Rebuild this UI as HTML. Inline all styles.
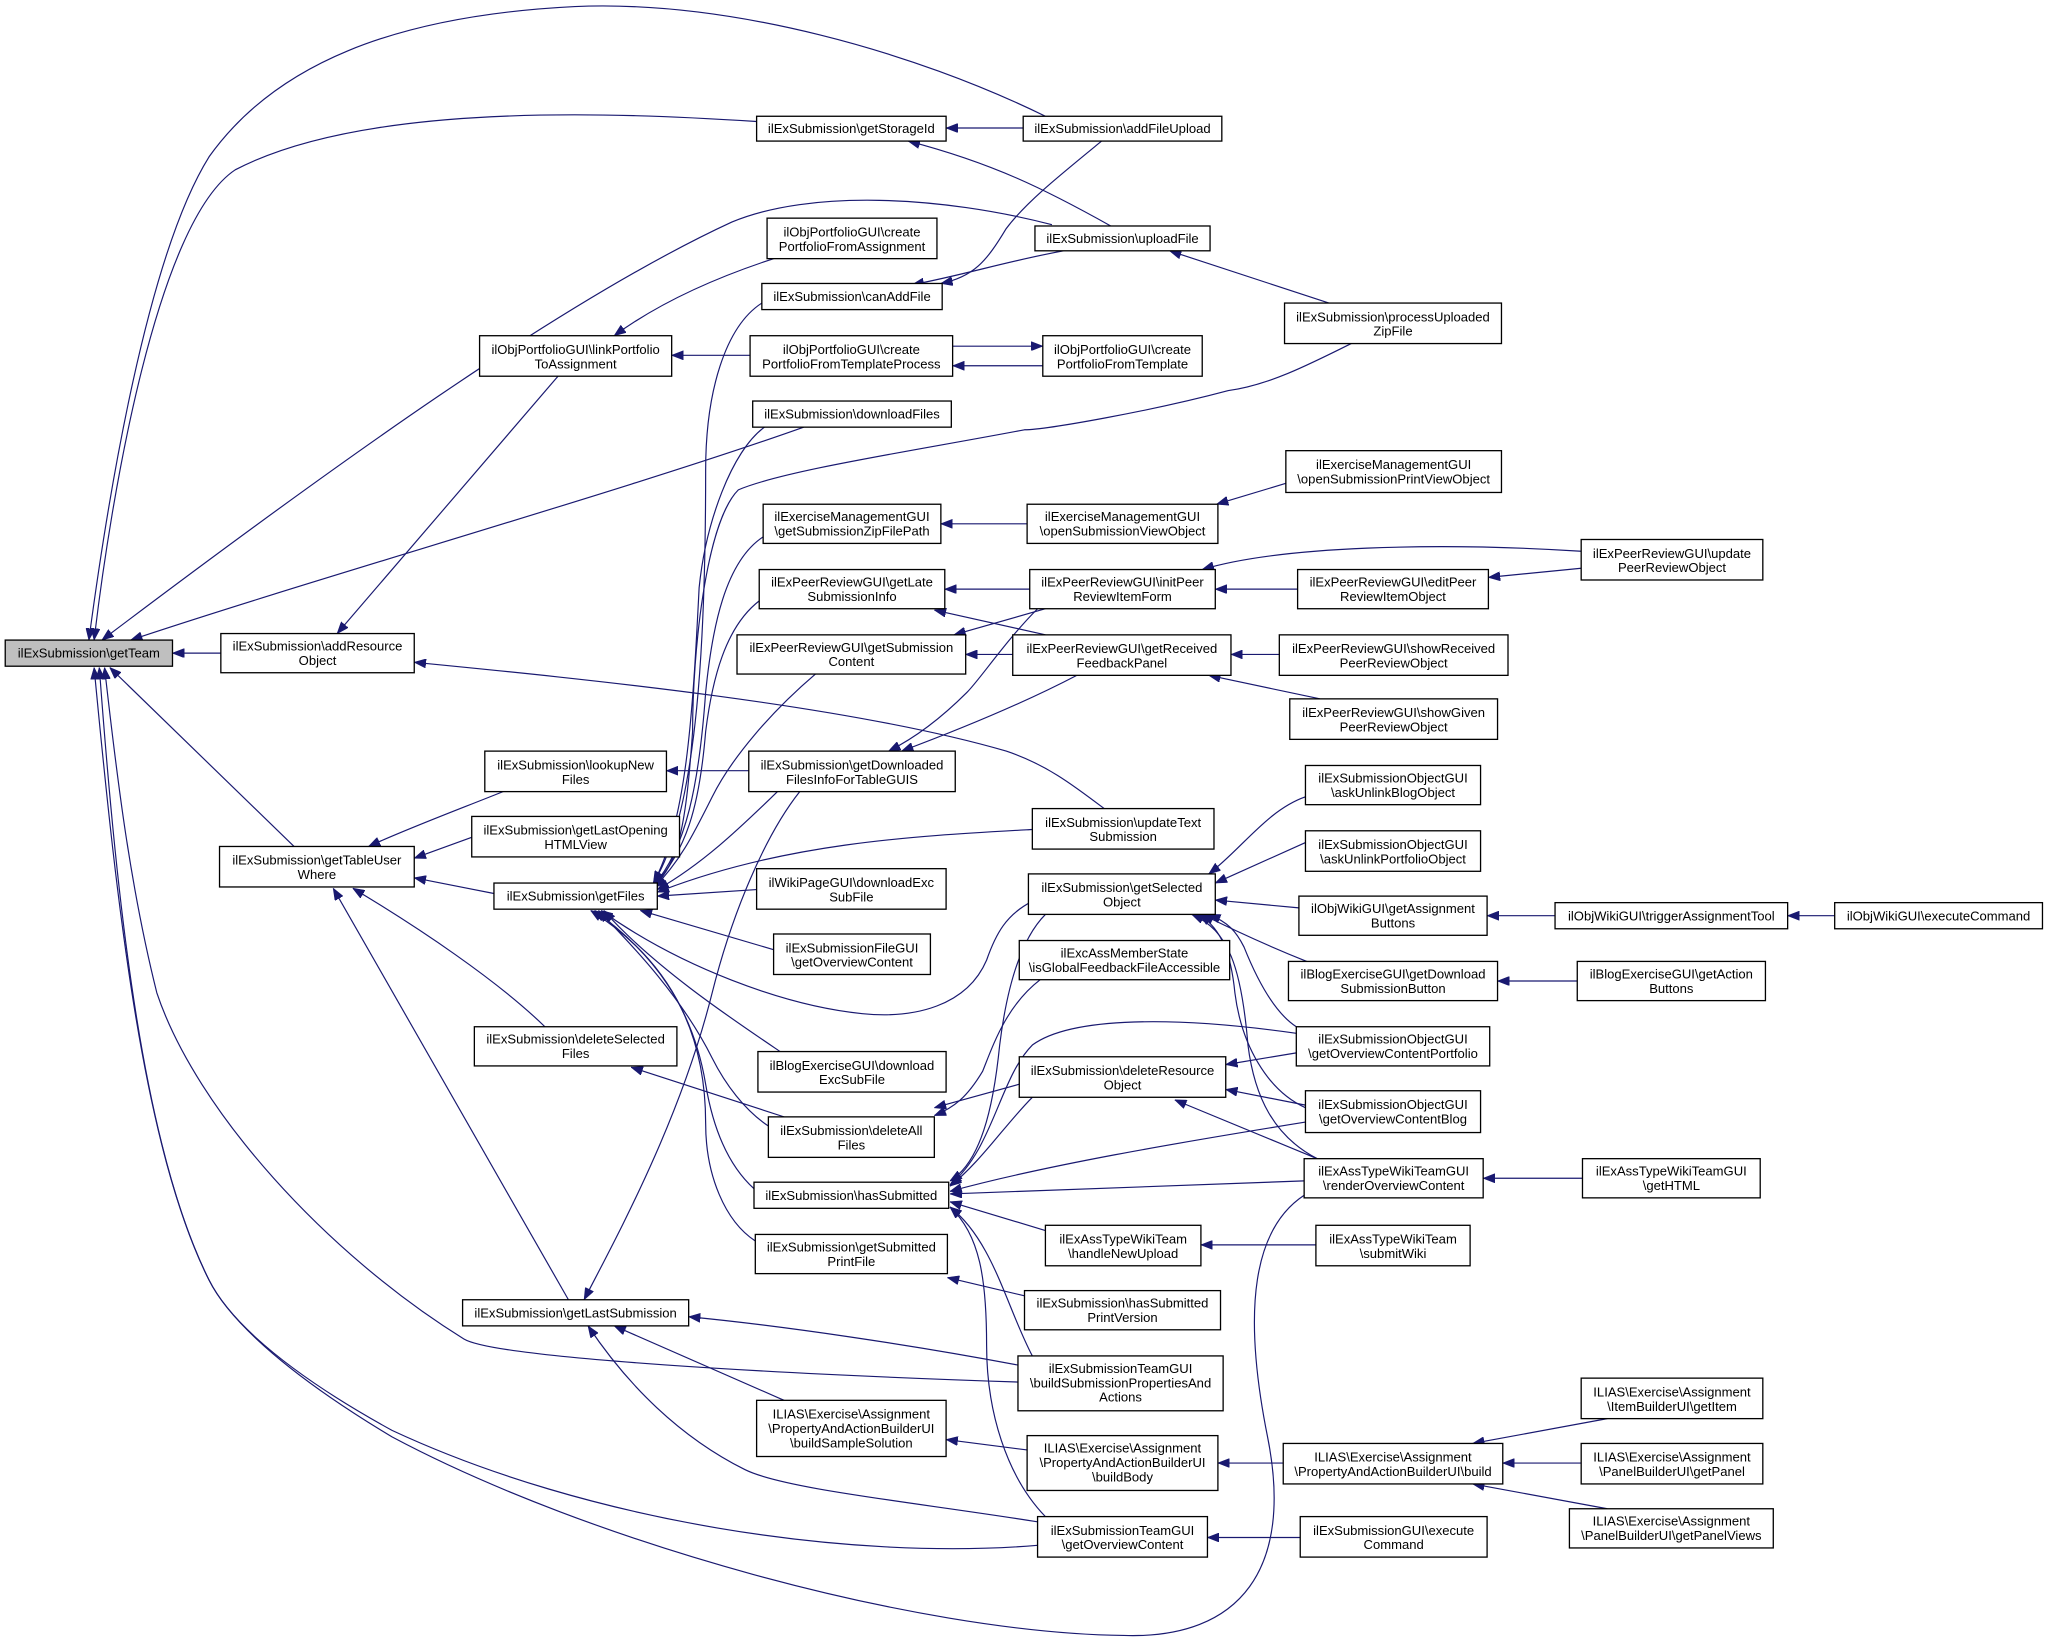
<!DOCTYPE html>
<html><head><meta charset="utf-8"><style>
html,body{margin:0;padding:0;background:#fff}
svg{display:block}
text{font-family:"Liberation Sans",Arial,sans-serif;font-size:10px;fill:#000;text-anchor:middle}
.n rect{fill:#fff;stroke:#000;stroke-width:1}
.e path{fill:none;stroke:#191970;stroke-width:0.9;marker-end:url(#a)}
</style></head><body>
<svg width="2049" height="1642" viewBox="0 0 1568 1257" preserveAspectRatio="none" xmlns="http://www.w3.org/2000/svg">
<defs><marker id="a" markerUnits="userSpaceOnUse" markerWidth="9" markerHeight="7" refX="9" refY="3.5" orient="auto"><path d="M0,0 L9,3.5 L0,7 z" fill="#191970" stroke="#191970" stroke-width="0.5"/></marker></defs>
<g class="e">
<path d="M169,500 L132,500"/>
<path d="M225,648 L84,511"/>
<path d="M579,93 C470,86 280,78 180,130 C120,170 85,380 72,490"/>
<path d="M800,89 C700,40 560,0 440,5 C300,12 210,50 160,120 C110,200 80,400 68,490"/>
<path d="M805,172 C720,150 620,145 560,170 C430,230 250,360 78,490"/>
<path d="M615,327 C480,375 250,440 100,490"/>
<path d="M998,915 C960,940 950,1000 970,1100 C990,1200 950,1255 860,1252 C700,1250 450,1180 300,1100 C200,1040 170,1000 160,980 C110,880 90,700 76,511"/>
<path d="M794,1183 C650,1195 450,1165 300,1095 C200,1040 170,1000 160,980 C110,880 90,700 72,511"/>
<path d="M779,1058 C600,1052 380,1040 355,1025 C250,960 150,850 120,760 C100,680 90,600 80,511"/>
<path d="M361,641 L317,657"/>
<path d="M378,684 L317,672"/>
<path d="M385,606 C350,620 310,635 282,648"/>
<path d="M417,786 C380,750 320,710 270,680"/>
<path d="M435,995 L255,680"/>
<path d="M427,288 L258,485"/>
<path d="M845,619 C820,600 800,585 770,575 C650,540 450,520 317,507"/>
<path d="M592,198 C540,215 500,235 470,257"/>
<path d="M574,272 L514,272"/>
<path d="M783,98 L724,98"/>
<path d="M850,173 C800,145 760,125 695,108"/>
<path d="M843,108 C810,135 785,155 770,175 C755,200 745,212 720,217"/>
<path d="M814,192 C770,200 740,210 698,218"/>
<path d="M1017,232 L895,192"/>
<path d="M729,265 L798,265"/>
<path d="M798,280 L729,280"/>
<path d="M984,370 L931,386"/>
<path d="M786,401 L720,401"/>
<path d="M788,451 L723,451"/>
<path d="M800,486 L715,467"/>
<path d="M800,466 L730,486"/>
<path d="M776,501 L739,501"/>
<path d="M993,451 L930,451"/>
<path d="M1210,422 C1100,415 980,418 920,436"/>
<path d="M1210,435 L1139,442"/>
<path d="M979,501 L942,501"/>
<path d="M1010,535 L925,517"/>
<path d="M824,517 C780,540 730,560 690,575"/>
<path d="M794,466 C770,490 750,520 740,530 C720,550 700,565 680,575"/>
<path d="M573,590 L510,590"/>
<path d="M583,232 C555,250 540,300 540,360 C540,480 535,620 500,676"/>
<path d="M585,327 C560,345 540,400 535,450 C530,550 525,630 500,676"/>
<path d="M584,411 C555,430 545,480 540,530 C535,600 525,650 500,678"/>
<path d="M581,460 C555,480 545,520 540,560 C535,620 525,650 500,679"/>
<path d="M624,516 C590,545 560,580 545,610 C530,640 520,660 500,680"/>
<path d="M595,606 C570,630 540,660 503,681"/>
<path d="M1034,263 C1000,280 970,295 940,299 C880,315 800,329 784,329 C700,345 600,360 565,375 C540,400 530,500 530,560 C525,630 520,660 500,679"/>
<path d="M790,635 C700,640 600,645 503,683"/>
<path d="M579,681 L503,686"/>
<path d="M592,727 L490,697"/>
<path d="M790,690 C770,700 762,715 755,735 C740,770 700,780 660,776 C600,770 520,740 460,697"/>
<path d="M597,805 C560,780 500,740 462,697"/>
<path d="M588,862 C570,850 555,830 545,810 C520,760 480,720 458,697"/>
<path d="M577,910 C555,890 545,860 540,830 C530,770 500,730 455,697"/>
<path d="M578,950 C555,935 540,900 540,860 C540,800 520,740 452,697"/>
<path d="M612,606 C585,640 560,700 545,760 C520,860 470,950 447,995"/>
<path d="M779,1045 C700,1030 600,1015 527,1008"/>
<path d="M600,1072 L470,1015"/>
<path d="M794,1165 C700,1150 600,1140 570,1125 C520,1100 480,1060 450,1015"/>
<path d="M600,855 L483,817"/>
<path d="M780,830 L715,848"/>
<path d="M796,750 C770,770 760,800 752,820 C740,840 730,848 715,854"/>
<path d="M999,610 C970,620 950,650 925,669"/>
<path d="M999,645 L930,676"/>
<path d="M994,695 L930,689"/>
<path d="M1000,736 C980,728 950,715 920,700"/>
<path d="M992,786 C975,775 962,750 952,725 C946,713 940,706 925,700"/>
<path d="M999,848 C970,835 950,800 945,760 C942,730 935,712 918,700"/>
<path d="M1008,887 C975,870 960,840 955,800 C950,740 940,712 912,700"/>
<path d="M800,700 C780,720 770,760 765,800 C760,850 750,890 727,904"/>
<path d="M992,791 C900,778 820,778 790,800 C765,825 760,880 727,907"/>
<path d="M790,840 C770,860 750,890 727,908"/>
<path d="M999,859 C900,875 800,892 727,912"/>
<path d="M998,904 L727,914"/>
<path d="M800,942 L727,920"/>
<path d="M790,1038 C770,1000 760,950 727,924"/>
<path d="M800,1161 C770,1130 755,1080 755,1030 C755,980 750,945 727,924"/>
<path d="M992,806 L938,815"/>
<path d="M999,846 L938,834"/>
<path d="M1008,887 L899,842"/>
<path d="M1190,701 L1138,701"/>
<path d="M1404,701 L1368,701"/>
<path d="M1207,751 L1146,751"/>
<path d="M1211,902 L1135,902"/>
<path d="M1007,953 L919,953"/>
<path d="M784,992 L725,978"/>
<path d="M786,1110 L724,1102"/>
<path d="M982,1120 L932,1120"/>
<path d="M1230,1086 L1127,1105"/>
<path d="M1210,1120 L1150,1120"/>
<path d="M1230,1155 L1127,1136"/>
<path d="M995,1177 L924,1177"/>
</g>
<g class="n">
<rect x="4" y="490" width="128" height="20" style="fill:#bfbfbf"/><text x="68" y="503.5">ilExSubmission\getTeam</text>
<rect x="169" y="485" width="148" height="30"/><text x="243" y="498">ilExSubmission\addResource</text><text x="243" y="509">Object</text>
<rect x="168" y="648" width="149" height="31"/><text x="242.5" y="662">ilExSubmission\getTableUser</text><text x="242.5" y="673">Where</text>
<rect x="579" y="89" width="145" height="19"/><text x="651.5" y="102">ilExSubmission\getStorageId</text>
<rect x="783" y="89" width="152" height="19"/><text x="859" y="102">ilExSubmission\addFileUpload</text>
<rect x="792" y="173" width="134" height="19"/><text x="859" y="186">ilExSubmission\uploadFile</text>
<rect x="983" y="232" width="166" height="31"/><text x="1066" y="246">ilExSubmission\processUploaded</text><text x="1066" y="257">ZipFile</text>
<rect x="587" y="167" width="130" height="31"/><text x="652" y="181">ilObjPortfolioGUI\create</text><text x="652" y="192">PortfolioFromAssignment</text>
<rect x="583" y="217" width="138" height="20"/><text x="652" y="230.5">ilExSubmission\canAddFile</text>
<rect x="367" y="257" width="147" height="31"/><text x="440.5" y="271">ilObjPortfolioGUI\linkPortfolio</text><text x="440.5" y="282">ToAssignment</text>
<rect x="574" y="257" width="155" height="31"/><text x="651.5" y="271">ilObjPortfolioGUI\create</text><text x="651.5" y="282">PortfolioFromTemplateProcess</text>
<rect x="798" y="257" width="122" height="31"/><text x="859" y="271">ilObjPortfolioGUI\create</text><text x="859" y="282">PortfolioFromTemplate</text>
<rect x="576" y="307" width="152" height="20"/><text x="652" y="320.5">ilExSubmission\downloadFiles</text>
<rect x="584" y="386" width="136" height="30"/><text x="652" y="399">ilExerciseManagementGUI</text><text x="652" y="410">\getSubmissionZipFilePath</text>
<rect x="786" y="386" width="146" height="30"/><text x="859" y="399">ilExerciseManagementGUI</text><text x="859" y="410">\openSubmissionViewObject</text>
<rect x="984" y="345" width="165" height="32"/><text x="1066.5" y="359">ilExerciseManagementGUI</text><text x="1066.5" y="370">\openSubmissionPrintViewObject</text>
<rect x="581" y="436" width="142" height="30"/><text x="652" y="449">ilExPeerReviewGUI\getLate</text><text x="652" y="460">SubmissionInfo</text>
<rect x="788" y="436" width="142" height="30"/><text x="859" y="449">ilExPeerReviewGUI\initPeer</text><text x="859" y="460">ReviewItemForm</text>
<rect x="993" y="436" width="146" height="30"/><text x="1066" y="449">ilExPeerReviewGUI\editPeer</text><text x="1066" y="460">ReviewItemObject</text>
<rect x="1210" y="413" width="139" height="31"/><text x="1279.5" y="427">ilExPeerReviewGUI\update</text><text x="1279.5" y="438">PeerReviewObject</text>
<rect x="564" y="486" width="175" height="30"/><text x="651.5" y="499">ilExPeerReviewGUI\getSubmission</text><text x="651.5" y="510">Content</text>
<rect x="775" y="486" width="167" height="31"/><text x="858.5" y="500">ilExPeerReviewGUI\getReceived</text><text x="858.5" y="511">FeedbackPanel</text>
<rect x="979" y="486" width="175" height="31"/><text x="1066.5" y="500">ilExPeerReviewGUI\showReceived</text><text x="1066.5" y="511">PeerReviewObject</text>
<rect x="987" y="535" width="159" height="31"/><text x="1066.5" y="549">ilExPeerReviewGUI\showGiven</text><text x="1066.5" y="560">PeerReviewObject</text>
<rect x="371" y="575" width="139" height="31"/><text x="440.5" y="589">ilExSubmission\lookupNew</text><text x="440.5" y="600">Files</text>
<rect x="573" y="575" width="158" height="31"/><text x="652" y="589">ilExSubmission\getDownloaded</text><text x="652" y="600">FilesInfoForTableGUIS</text>
<rect x="999" y="586" width="134" height="30"/><text x="1066" y="599">ilExSubmissionObjectGUI</text><text x="1066" y="610">\askUnlinkBlogObject</text>
<rect x="790" y="619" width="139" height="31"/><text x="859.5" y="633">ilExSubmission\updateText</text><text x="859.5" y="644">Submission</text>
<rect x="361" y="625" width="159" height="31"/><text x="440.5" y="639">ilExSubmission\getLastOpening</text><text x="440.5" y="650">HTMLView</text>
<rect x="999" y="636" width="134" height="31"/><text x="1066" y="650">ilExSubmissionObjectGUI</text><text x="1066" y="661">\askUnlinkPortfolioObject</text>
<rect x="378" y="676" width="125" height="20"/><text x="440.5" y="689.5">ilExSubmission\getFiles</text>
<rect x="579" y="665" width="145" height="31"/><text x="651.5" y="679">ilWikiPageGUI\downloadExc</text><text x="651.5" y="690">SubFile</text>
<rect x="787" y="669" width="143" height="31"/><text x="858.5" y="683">ilExSubmission\getSelected</text><text x="858.5" y="694">Object</text>
<rect x="994" y="686" width="144" height="30"/><text x="1066" y="699">ilObjWikiGUI\getAssignment</text><text x="1066" y="710">Buttons</text>
<rect x="1190" y="691" width="178" height="20"/><text x="1279" y="704.5">ilObjWikiGUI\triggerAssignmentTool</text>
<rect x="1404" y="691" width="159" height="20"/><text x="1483.5" y="704.5">ilObjWikiGUI\executeCommand</text>
<rect x="592" y="715" width="120" height="31"/><text x="652" y="729">ilExSubmissionFileGUI</text><text x="652" y="740">\getOverviewContent</text>
<rect x="780" y="720" width="161" height="30"/><text x="860.5" y="733">ilExcAssMemberState</text><text x="860.5" y="744">\isGlobalFeedbackFileAccessible</text>
<rect x="986" y="736" width="160" height="30"/><text x="1066" y="749">ilBlogExerciseGUI\getDownload</text><text x="1066" y="760">SubmissionButton</text>
<rect x="1207" y="736" width="144" height="30"/><text x="1279" y="749">ilBlogExerciseGUI\getAction</text><text x="1279" y="760">Buttons</text>
<rect x="363" y="786" width="155" height="30"/><text x="440.5" y="799">ilExSubmission\deleteSelected</text><text x="440.5" y="810">Files</text>
<rect x="992" y="786" width="148" height="30"/><text x="1066" y="799">ilExSubmissionObjectGUI</text><text x="1066" y="810">\getOverviewContentPortfolio</text>
<rect x="580" y="805" width="144" height="31"/><text x="652" y="819">ilBlogExerciseGUI\download</text><text x="652" y="830">ExcSubFile</text>
<rect x="780" y="809" width="158" height="31"/><text x="859" y="823">ilExSubmission\deleteResource</text><text x="859" y="834">Object</text>
<rect x="999" y="835" width="134" height="32"/><text x="1066" y="849">ilExSubmissionObjectGUI</text><text x="1066" y="860">\getOverviewContentBlog</text>
<rect x="588" y="855" width="127" height="31"/><text x="651.5" y="869">ilExSubmission\deleteAll</text><text x="651.5" y="880">Files</text>
<rect x="998" y="887" width="137" height="30"/><text x="1066.5" y="900">ilExAssTypeWikiTeamGUI</text><text x="1066.5" y="911">\renderOverviewContent</text>
<rect x="1211" y="887" width="136" height="30"/><text x="1279" y="900">ilExAssTypeWikiTeamGUI</text><text x="1279" y="911">\getHTML</text>
<rect x="577" y="905" width="149" height="20"/><text x="651.5" y="918.5">ilExSubmission\hasSubmitted</text>
<rect x="800" y="938" width="119" height="31"/><text x="859.5" y="952">ilExAssTypeWikiTeam</text><text x="859.5" y="963">\handleNewUpload</text>
<rect x="1007" y="938" width="118" height="31"/><text x="1066" y="952">ilExAssTypeWikiTeam</text><text x="1066" y="963">\submitWiki</text>
<rect x="578" y="945" width="147" height="30"/><text x="651.5" y="958">ilExSubmission\getSubmitted</text><text x="651.5" y="969">PrintFile</text>
<rect x="784" y="988" width="150" height="30"/><text x="859" y="1001">ilExSubmission\hasSubmitted</text><text x="859" y="1012">PrintVersion</text>
<rect x="354" y="995" width="173" height="20"/><text x="440.5" y="1008.5">ilExSubmission\getLastSubmission</text>
<rect x="779" y="1038" width="157" height="42"/><text x="857.5" y="1051">ilExSubmissionTeamGUI</text><text x="857.5" y="1062">\buildSubmissionPropertiesAnd</text><text x="857.5" y="1073">Actions</text>
<rect x="579" y="1072" width="145" height="43"/><text x="651.5" y="1086">ILIAS\Exercise\Assignment</text><text x="651.5" y="1097">\PropertyAndActionBuilderUI</text><text x="651.5" y="1108">\buildSampleSolution</text>
<rect x="786" y="1099" width="146" height="42"/><text x="859" y="1112">ILIAS\Exercise\Assignment</text><text x="859" y="1123">\PropertyAndActionBuilderUI</text><text x="859" y="1134">\buildBody</text>
<rect x="982" y="1105" width="168" height="31"/><text x="1066" y="1119">ILIAS\Exercise\Assignment</text><text x="1066" y="1130">\PropertyAndActionBuilderUI\build</text>
<rect x="1210" y="1055" width="139" height="31"/><text x="1279.5" y="1069">ILIAS\Exercise\Assignment</text><text x="1279.5" y="1080">\ItemBuilderUI\getItem</text>
<rect x="1210" y="1105" width="139" height="31"/><text x="1279.5" y="1119">ILIAS\Exercise\Assignment</text><text x="1279.5" y="1130">\PanelBuilderUI\getPanel</text>
<rect x="1201" y="1155" width="156" height="30"/><text x="1279" y="1168">ILIAS\Exercise\Assignment</text><text x="1279" y="1179">\PanelBuilderUI\getPanelViews</text>
<rect x="794" y="1161" width="130" height="31"/><text x="859" y="1175">ilExSubmissionTeamGUI</text><text x="859" y="1186">\getOverviewContent</text>
<rect x="995" y="1161" width="143" height="31"/><text x="1066.5" y="1175">ilExSubmissionGUI\execute</text><text x="1066.5" y="1186">Command</text>
</g>
</svg>
</body></html>
